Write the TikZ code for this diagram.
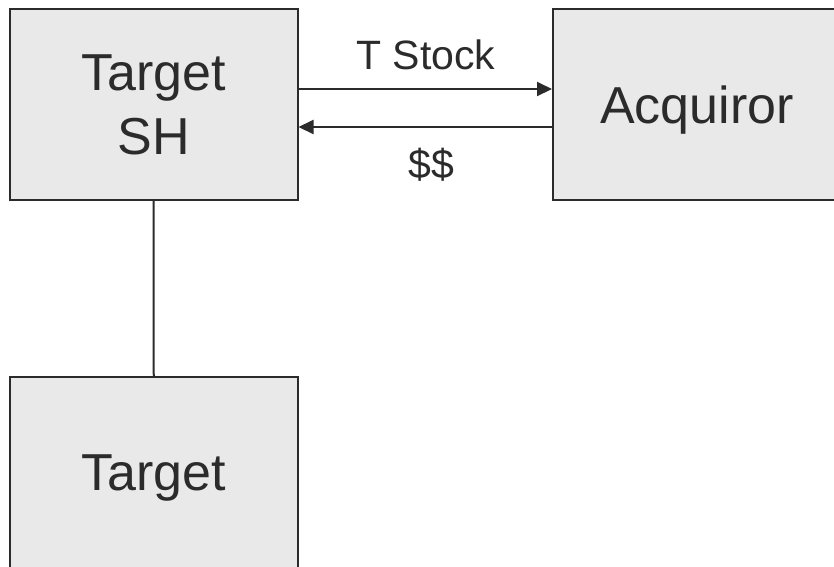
\documentclass[tikz,border=0pt]{standalone}
\usepackage{fontspec}
\setmainfont{Liberation Sans}
\usetikzlibrary{arrows.meta}
\definecolor{boxfill}{HTML}{E9E9E9}
\definecolor{ink}{HTML}{2B2B2B}
\tikzset{
  entity/.style={draw=ink, line width=2pt, fill=boxfill, text=ink, align=center,
    minimum width=288pt, minimum height=191pt, inner sep=0pt,
    font=\fontsize{52}{64}\selectfont},
  oneline/.style={entity, text depth=0pt},
  flow/.style={draw=ink, line width=2pt, -{Triangle[length=15pt,width=14pt]}},
  lbl/.style={text=ink, inner sep=0pt, font=\fontsize{41}{48}\selectfont}
}
\begin{document}
\begin{tikzpicture}[x=1pt,y=-1pt]
\useasboundingbox (0,0) rectangle (834,566);
\node[entity] (tsh) at (153.5,104.5) {Target\\SH};
\node[oneline] (acq) at (697,104.5) {Acquiror};
\node[oneline] (tgt) at (153.75,472.5) {Target};
\coordinate (c1) at (0,89);
\coordinate (c2) at (0,127);
\draw[flow] (tsh.east |- c1) -- (acq.west |- c1);
\draw[flow] (acq.west |- c2) -- (tsh.east |- c2);
\draw[draw=ink, line width=2pt] (tsh.south) -- (tgt.north);
\node[lbl, anchor=base] (ts) at (426,69) {T Stock};
\node[lbl, anchor=base] (dd) at (431,178) {\$\$};
\end{tikzpicture}
\end{document}
